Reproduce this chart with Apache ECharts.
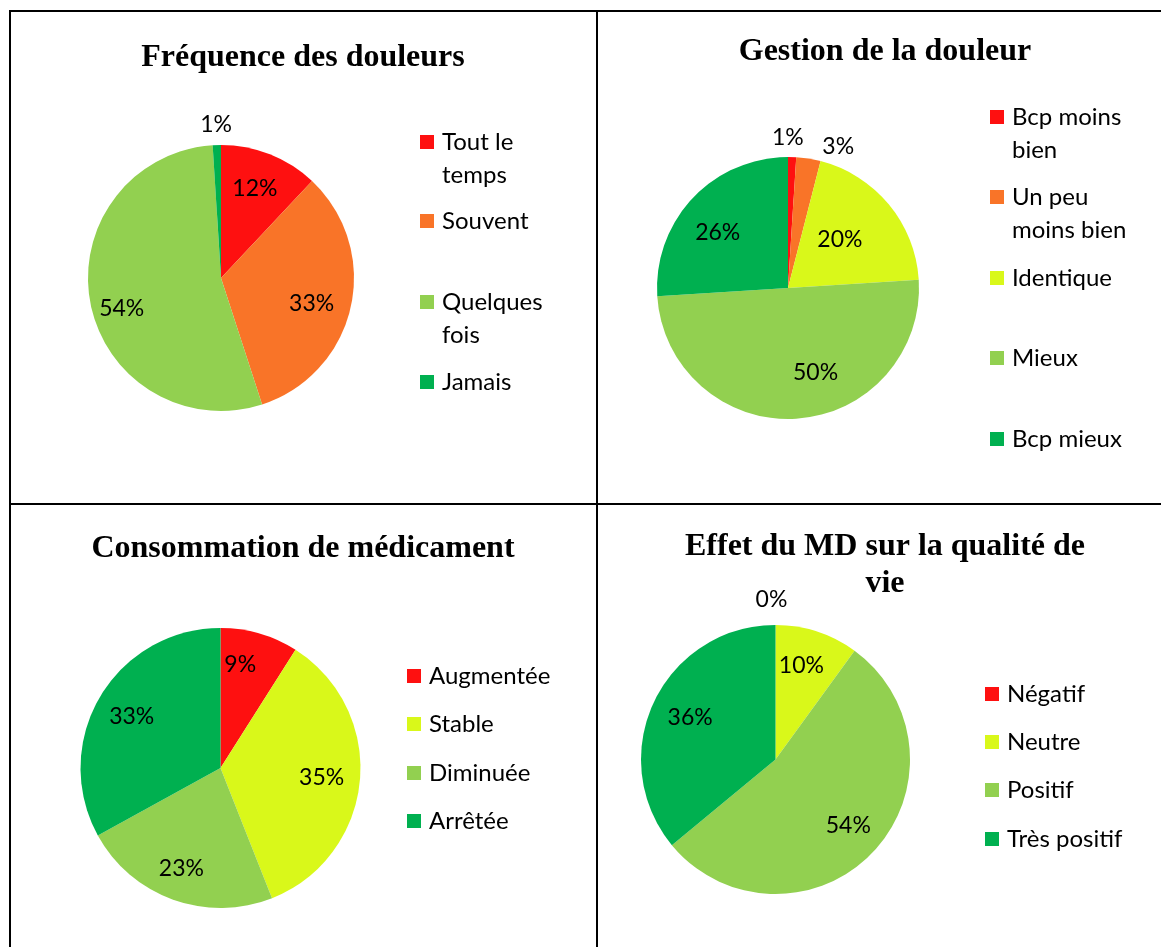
<!DOCTYPE html>
<html><head><meta charset="utf-8">
<script src="https://cdn.jsdelivr.net/npm/echarts@6/dist/echarts.min.js"></script>
<style>html,body{margin:0;padding:0;background:#fff}#c{width:1161px;height:947px}</style>
</head><body><div id="c"></div>
<script>
// ---- data ----
const freqCategories = ['Tout le temps', 'Souvent', 'Quelques fois', 'Jamais'];
const freqValues = [12, 33, 54, 1];
const gestionCategories = ['Bcp moins bien', 'Un peu moins bien', 'Identique', 'Mieux', 'Bcp mieux'];
const gestionValues = [1, 3, 20, 50, 26];
const consoCategories = ['Augmentée', 'Stable', 'Diminuée', 'Arrêtée'];
const consoValues = [9, 35, 23, 33];
const effetCategories = ['Négatif', 'Neutre', 'Positif', 'Très positif'];
const effetValues = [0, 10, 54, 36];
const chartTitles = ['Fréquence des douleurs', 'Gestion de la douleur', 'Consommation de médicament', 'Effet du MD sur la qualité de\nvie'];

// ---- styles / layout ----
const RED = '#FE1010', ORANGE = '#F97428', YELLOW = '#D9F81A', LGREEN = '#92D050', DGREEN = '#00B050';
const charts = [
  {cats: freqCategories, vals: freqValues, colors: [RED, ORANGE, LGREEN, DGREEN],
   cx: 221, cy: 278, r: 133, tx: 303, ty: 58, inK: 0.73, outK: 1.15, lx: 420, lw: 112, ly: [142, 221, 302, 382],
   inOff: [[-3, 4], [-7, 4], [-1, 12]], outOff: [[0, 0], [0, 0], [0, 0], [0, 2]]},
  {cats: gestionCategories, vals: gestionValues, colors: [RED, ORANGE, YELLOW, LGREEN, DGREEN],
   cx: 788, cy: 288, r: 131, tx: 885, ty: 52, inK: 0.65, outK: 1.16, lx: 990, lw: 126, ly: [117, 197, 278, 358, 439],
   inOff: [[0, 0], [0, 0], [-16, 8], [22, -3], [-6, 5]], outOff: [[-5, 4], [26, 12]]},
  {cats: consoCategories, vals: consoValues, colors: [RED, YELLOW, LGREEN, DGREEN],
   cx: 220.5, cy: 768, r: 140, tx: 303, ty: 549, inK: 0.74, outK: 1.2, lx: 407, lw: 160, ly: [676, 724, 773, 821],
   inOff: [[-10, -1], [-5, 0], [-3, 0], [3, 3]], outOff: []},
  {cats: effetCategories, vals: effetValues, colors: [RED, YELLOW, LGREEN, DGREEN],
   cx: 775.5, cy: 759.5, r: 134.5, tx: 885, ty: 547, inK: 0.72, outK: 1.18, lx: 985, lw: 160, ly: [694, 742, 790, 839],
   inOff: [[0, 0], [-5, 1], [0, -2], [5, 1]], outOff: [[-4, 2]]}
];
const SANS = 'Lato';
const LEG_FS = 24, LEG_LH = 33, LAB_FS = 23;
const TITLE_FS = 32, TITLE_LH = 37;
const SMALL = 5; // slices below this value get their label outside

const ctx = document.createElement('canvas').getContext('2d');
function wrapLines(text, maxW) {
  ctx.font = LEG_FS + 'px ' + SANS;
  const words = text.split(' ');
  const lines = [];
  let cur = '';
  for (const w of words) {
    const t = cur ? cur + ' ' + w : w;
    if (cur && ctx.measureText(t).width > maxW) { lines.push(cur); cur = w; } else cur = t;
  }
  lines.push(cur);
  return lines;
}

const title = [], series = [], legend = [];
charts.forEach((c, ci) => {
  title.push({
    text: chartTitles[ci], left: c.tx, top: c.ty - TITLE_LH / 2, textAlign: 'center', padding: 0,
    textStyle: {fontFamily: 'Liberation Serif', fontWeight: 'bold', fontSize: TITLE_FS, lineHeight: TITLE_LH, color: '#000'}
  });
  const mainData = c.cats.map((n, i) => ({name: n, value: c.vals[i], itemStyle: {color: c.colors[i]}}));
  series.push({
    type: 'pie', center: [c.cx, c.cy], radius: [0, c.r], startAngle: 90, clockwise: true,
    data: mainData, label: {show: false}, labelLine: {show: false}, silent: true,
    itemStyle: {borderWidth: 0}, emphasis: {disabled: true}, avoidLabelOverlap: false
  });
  const mkLabelSeries = (k, showFn, offList) => ({
    type: 'pie', center: [c.cx, c.cy], radius: [0, 2 * k * c.r], startAngle: 90, clockwise: true,
    silent: true, avoidLabelOverlap: false, emphasis: {disabled: true}, labelLine: {show: false},
    itemStyle: {color: 'rgba(0,0,0,0)', borderWidth: 0},
    data: c.cats.map((n, i) => ({name: n, value: c.vals[i], label: {show: showFn(c.vals[i])}})),
    label: {position: 'inside', formatter: '{c}%', color: '#000', fontFamily: SANS, fontSize: LAB_FS},
    labelLayout: p => {
      const o = offList[p.dataIndex] || [0, 0];
      return {dx: o[0], dy: o[1], hideOverlap: false};
    }
  });
  series.push(mkLabelSeries(c.inK, v => v >= SMALL, c.inOff));
  series.push(mkLabelSeries(c.outK, v => v < SMALL, c.outOff));
  c.cats.forEach((n, i) => {
    const nLines = wrapLines(n, c.lw).length;
    legend.push({
      data: [n], left: c.lx, top: c.ly[i] - (2 * nLines - 1) * LEG_LH / 2, padding: 0,
      itemWidth: 14, itemHeight: 14, icon: 'rect', selectedMode: false,
      // leading blank lines keep the first text line level with the colour square
      formatter: name => { const l = wrapLines(name, c.lw); return '\n'.repeat(l.length - 1) + l.join('\n'); },
      textStyle: {fontFamily: SANS, fontSize: LEG_FS, lineHeight: LEG_LH, color: '#000', padding: [0, 0, 0, 3]}
    });
  });
});

const graphic = [
  {type: 'rect', shape: {x: 9, y: 10, width: 1152, height: 2}},
  {type: 'rect', shape: {x: 9, y: 10, width: 2, height: 937}},
  {type: 'rect', shape: {x: 596, y: 10, width: 2, height: 937}},
  {type: 'rect', shape: {x: 9, y: 503, width: 1152, height: 2}}
].map(g => Object.assign(g, {style: {fill: '#000'}, silent: true}));

const chart = echarts.init(document.getElementById('c'), null, {renderer: 'canvas'});
chart.setOption({animation: false, backgroundColor: '#fff', title, legend, series, graphic});
</script>
</body></html>
